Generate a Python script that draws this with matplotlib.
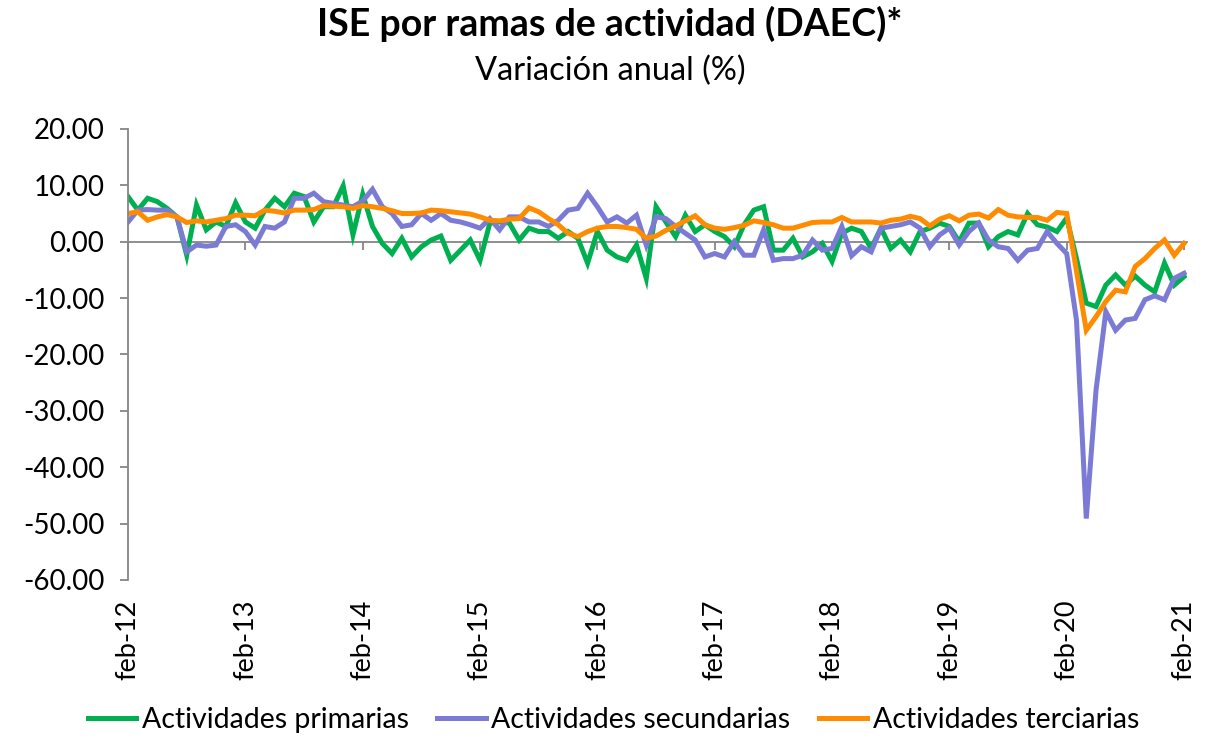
import matplotlib
matplotlib.use("Agg")
import matplotlib.pyplot as plt
from matplotlib.lines import Line2D

plt.rcParams["font.family"] = ["Lato", "DejaVu Sans"]

# variacion anual (%), feb-12 ... feb-21
primarias = [8.0, 5.6, 7.7, 7.1, 5.9, 4.4, -2.4, 6.5, 2.1, 3.5, 2.7, 6.9,
             3.5, 2.4, 5.6, 7.7, 6.2, 8.6, 8.0, 3.5, 6.2, 6.2, 9.9, 1.2,
             8.4, 2.7, -0.3, -2.1, 0.6, -2.7, -0.9, 0.3, 1.0, -3.3, -1.5, 0.3,
             -3.3, 3.3, 3.5, 3.3, 0.3, 2.4, 1.8, 1.8, 0.6, 1.8, 0.6, -3.8,
             1.8, -1.5, -2.7, -3.3, -0.6, -6.5, 6.2, 3.5, 0.9, 4.7, 1.8, 3.0,
             1.8, 0.9, -0.9, 3.0, 5.6, 6.2, -1.5, -1.5, 0.6, -2.7, -1.8, -0.3,
             -3.5, 1.5, 2.4, 1.8, -1.2, 2.4, -1.2, 0.3, -1.8, 1.8, 2.4, 3.3,
             2.7, 0.0, 3.3, 3.3, -0.9, 0.9, 1.8, 1.2, 5.0, 3.0, 2.6, 1.8,
             4.2, -3.0, -10.9, -11.5, -7.7, -5.9, -7.7, -6.1, -7.7, -8.9, -3.8, -7.7,
             -6.2]
secundarias = [3.5, 5.6, 5.7, 5.6, 5.6, 4.4, -1.8, -0.6, -0.8, -0.6, 2.7, 3.0,
               1.8, -0.6, 2.7, 2.4, 3.5, 7.7, 7.7, 8.6, 7.1, 6.8, 6.5, 6.2,
               7.2, 9.3, 6.2, 5.0, 2.7, 3.0, 5.0, 3.8, 5.0, 3.8, 3.5, 3.0,
               2.4, 4.1, 2.1, 4.4, 4.4, 3.5, 3.5, 2.7, 3.8, 5.6, 5.9, 8.6,
               6.2, 3.5, 4.4, 3.3, 4.7, -0.6, 4.4, 4.1, 2.7, 1.5, 0.3, -2.7,
               -2.1, -2.7, 0.0, -2.4, -2.4, 2.1, -3.3, -3.0, -3.0, -2.4, 0.3, -1.5,
               -1.2, 2.7, -2.5, -0.9, -1.8, 2.4, 2.7, 3.0, 3.5, 2.4, -0.9, 1.2,
               2.4, -0.6, 1.8, 3.3, 0.3, -0.9, -1.2, -3.3, -1.5, -1.2, 1.8, -0.3,
               -2.1, -13.9, -49.1, -26.3, -12.4, -15.7, -13.9, -13.6, -10.3, -9.6, -10.3, -6.5,
               -5.6]
terciarias = [5.0, 5.3, 3.8, 4.4, 4.8, 4.4, 3.4, 3.7, 3.5, 3.8, 4.1, 4.7,
              4.7, 4.6, 5.6, 5.4, 5.1, 5.6, 5.6, 5.7, 6.4, 6.3, 6.2, 5.9,
              6.4, 6.2, 5.9, 5.5, 5.0, 5.0, 5.1, 5.6, 5.5, 5.3, 5.1, 4.9,
              4.4, 3.8, 3.7, 4.0, 4.1, 6.0, 5.3, 4.1, 3.0, 1.5, 0.9, 1.8,
              2.4, 2.7, 2.7, 2.5, 2.2, 0.6, 1.0, 2.0, 2.8, 3.7, 4.6, 3.0,
              2.4, 2.2, 2.5, 2.9, 3.7, 3.4, 3.0, 2.4, 2.4, 2.9, 3.4, 3.5,
              3.5, 4.3, 3.5, 3.5, 3.5, 3.3, 3.8, 4.0, 4.5, 4.1, 2.8, 4.0,
              4.6, 3.7, 4.7, 4.9, 4.2, 5.7, 4.7, 4.4, 4.3, 4.3, 3.8, 5.2,
              5.0, -5.2, -15.7, -13.3, -10.6, -8.6, -8.9, -4.4, -3.0, -1.2, 0.3, -2.4,
              -0.3]
tick_labels = ["feb-12", "feb-13", "feb-14", "feb-15", "feb-16",
               "feb-17", "feb-18", "feb-19", "feb-20", "feb-21"]
series_names = ["Actividades primarias", "Actividades secundarias", "Actividades terciarias"]
colors = ["#00B050", "#7B7BD6", "#FF8C00"]

fig = plt.figure(figsize=(12.08, 7.41), dpi=100)
ax = fig.add_axes([0.106, 0.2173, 0.8766, 0.6087])

x = list(range(len(primarias)))
for vals, c in zip([primarias, secundarias, terciarias], colors):
    ax.plot(x, vals, color=c, lw=3.6, solid_joinstyle="miter")

ax.set_xlim(0, 108.3)
ax.set_ylim(-60, 20)
ax.set_yticks(range(-60, 21, 10))
ax.set_yticklabels([f"{v:.2f}" for v in range(-60, 21, 10)])

gray = "#868686"
for s in ["top", "right"]:
    ax.spines[s].set_visible(False)
ax.spines["left"].set_color(gray)
ax.spines["left"].set_linewidth(1.3)
ax.spines["bottom"].set_position(("data", 0))
ax.spines["bottom"].set_color(gray)
ax.spines["bottom"].set_linewidth(1.3)
ax.spines["bottom"].set_zorder(0)

label_pos = list(range(0, 109, 12))
ax.set_xticks(label_pos)
ax.tick_params(axis="x", direction="out", length=6, width=1.3, color=gray, labelbottom=False)
ax.tick_params(axis="y", direction="out", length=6, width=1.3, color=gray, labelsize=20, pad=11)

sec = ax.secondary_xaxis("bottom")
sec.set_xticks(label_pos)
sec.set_xticklabels(tick_labels, rotation=90, fontsize=19.5)
sec.tick_params(length=0, pad=14)
sec.spines["bottom"].set_visible(False)

fig.text(0.505, 0.992, "ISE por ramas de actividad (DAEC)*", ha="center", va="top",
         fontsize=27, fontweight="bold")
fig.text(0.505, 0.925, "Variación anual (%)", ha="center", va="top", fontsize=23.5)

handles = [Line2D([], [], color=c, lw=3.6) for c in colors]
fig.legend(handles, series_names, loc="lower center", ncol=3, frameon=False,
           bbox_to_anchor=(0.508, -0.012), fontsize=20.5, handlelength=1.7,
           handletextpad=0.2, columnspacing=1.0, borderaxespad=0.2)

fig.savefig("out.png", dpi=100)
